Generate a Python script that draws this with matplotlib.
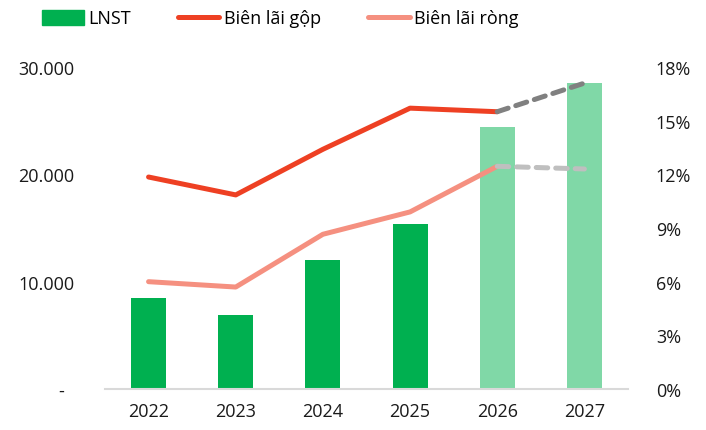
import matplotlib
matplotlib.use("Agg")
import matplotlib.pyplot as plt
from matplotlib.lines import Line2D
from matplotlib.patches import Patch
from matplotlib.ticker import FuncFormatter

plt.rcParams['font.family'] = ['Open Sans', 'DejaVu Sans']

years = ['2022', '2023', '2024', '2025', '2026', '2027']
lnst = [8450, 6850, 12000, 15400, 24400, 28550]
gross_margin = [11.85, 10.85, 13.4, 15.7, 15.5, 17.1]
net_margin = [6.0, 5.7, 8.65, 9.9, 12.45, 12.3]
n_actual = 4  # 2022-2025 actual, 2026-2027 forecast

c_bar = '#00B050'
c_bar_f = '#80D8A7'
c_gross = '#EE4023'
c_net = '#F59080'
c_gross_f = '#808080'
c_net_f = '#BFBFBF'

fig = plt.figure(figsize=(7.06, 4.31), dpi=100)
ax = fig.add_axes([0.1487, 0.0951, 0.7408, 0.7471])
ax2 = ax.twinx()

x = list(range(len(years)))
colors = [c_bar if i < n_actual else c_bar_f for i in x]
ax.bar(x, lnst, width=0.40, color=colors, zorder=2)
ax.set_xlim(-0.5, len(years) - 0.5)
ax.set_ylim(0, 30000)
ax.set_yticks([0, 10000, 20000, 30000])
ax.yaxis.set_major_formatter(FuncFormatter(
    lambda v, p: '-  ' if v == 0 else f"{int(v):,}".replace(',', '.')))
ax.set_xticks(x)
ax.set_xticklabels(years)

ax2.set_ylim(0, 18)
ax2.set_yticks([0, 3, 6, 9, 12, 15, 18])
ax2.yaxis.set_major_formatter(FuncFormatter(lambda v, p: f"{int(v)}%"))

lw = 3.6
ax2.plot(x[:5], gross_margin[:5], color=c_gross, lw=lw, solid_capstyle='round', solid_joinstyle='round', zorder=3)
ax2.plot(x[:5], net_margin[:5], color=c_net, lw=lw, solid_capstyle='round', solid_joinstyle='round', zorder=3)
ax2.plot(x[4:], gross_margin[4:], color=c_gross_f, lw=lw, dashes=(2.3, 1.6), dash_capstyle='round', zorder=3)
ax2.plot(x[4:], net_margin[4:], color=c_net_f, lw=lw, dashes=(2.3, 1.6), dash_capstyle='round', zorder=3)

for a in (ax, ax2):
    for s in ['top', 'left', 'right']:
        a.spines[s].set_visible(False)
    a.tick_params(length=0, labelsize=13, colors='#1a1a1a')
ax2.spines['bottom'].set_visible(False)
ax.spines['bottom'].set_color('#D9D9D9')
ax.spines['bottom'].set_linewidth(1.5)
ax.tick_params(axis='y', pad=22)
ax.tick_params(axis='x', pad=9)
ax2.tick_params(axis='y', pad=20)

handles = [Patch(color=c_bar, label='LNST'),
           Line2D([0], [0], color=c_gross, lw=lw, solid_capstyle='round', label='Biên lãi gộp'),
           Line2D([0], [0], color=c_net, lw=lw, solid_capstyle='round', label='Biên lãi ròng')]
fig.legend(handles=handles, loc='center left', bbox_to_anchor=(0.06, 0.955), ncol=3,
           frameon=False, fontsize=13, handlelength=2.3, handleheight=0.9,
           handletextpad=0.25, columnspacing=2.6, borderpad=0, borderaxespad=0)

fig.savefig('out.png', dpi=100)
